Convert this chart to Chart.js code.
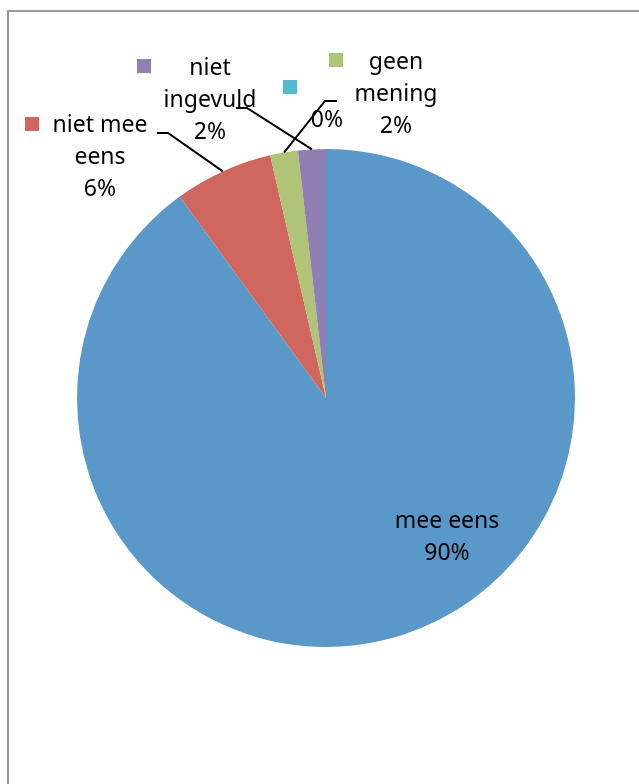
<!DOCTYPE html>
<html>
<head>
<meta charset="utf-8">
<script src="https://cdn.jsdelivr.net/npm/chart.js@4/dist/chart.umd.min.js"></script>
<style>
    html, body { margin: 0; padding: 0; background: #fff; }
    #wrap { position: relative; width: 639px; height: 784px; overflow: hidden; }
    #frame {
        position: absolute; left: 7px; top: 10px; width: 700px; height: 800px;
        border-left: 2px solid #999; border-top: 2px solid #999;
    }
    #pieChart { position: absolute; left: 0; top: 0; }
</style>
</head>
<body>
<div id="wrap">
    <div id="frame"></div>
    <canvas id="pieChart" width="639" height="784"></canvas>
</div>
<script>
(function() {
    'use strict';

    // data, in drawing order (clockwise from 12 o'clock)
    const categories = ['mee eens', 'niet mee eens', 'geen mening', '', 'niet ingevuld'];
    const shares = [90, 6.4, 1.8, 0, 1.8];
    const colors = ['#5998C8', '#D0675F', '#AFC476', '#55B9D0', '#917FB4'];

    // where the data labels sit (text centre x, first line y, key centre, leader elbow)
    const labelLayout = [
        { lines: ['mee eens'], x: 447, y: 521 },
        { lines: ['niet mee', 'eens'], x: 100, y: 125, key: [32, 124], elbow: [[168, 133], [157, 133]] },
        { lines: ['geen', 'mening'], x: 396, y: 62, key: [336, 60], elbow: [[325, 101], [337, 101]] },
        { lines: [''], x: 327, y: 88, key: [290, 87] },
        { lines: ['niet', 'ingevuld'], x: 210, y: 68, key: [144, 66], elbow: [[247, 108], [236, 108]] }
    ];
    const lineHeight = 32;

    const total = shares.reduce(function(a, b) { return a + b; }, 0);

    const pieLabels = {
        id: 'pieLabels',
        afterDatasetsDraw: function(chart) {
            const ctx = chart.ctx;
            const meta = chart.getDatasetMeta(0);
            ctx.save();
            ctx.font = '23px "Noto Sans"';
            ctx.textAlign = 'center';
            ctx.textBaseline = 'middle';

            meta.data.forEach(function(arc, i) {
                const lay = labelLayout[i];
                const pct = Math.round(shares[i] / total * 100) + '%';
                const lines = lay.lines.concat([pct]);

                // leader line from the slice edge
                if (lay.elbow) {
                    const p = arc.getProps(['x', 'y', 'startAngle', 'endAngle', 'outerRadius'], true);
                    const mid = (p.startAngle + p.endAngle) / 2;
                    ctx.beginPath();
                    ctx.moveTo(p.x + Math.cos(mid) * p.outerRadius, p.y + Math.sin(mid) * p.outerRadius);
                    lay.elbow.forEach(function(pt) { ctx.lineTo(pt[0], pt[1]); });
                    ctx.strokeStyle = '#000';
                    ctx.lineWidth = 2;
                    ctx.stroke();
                }

                if (lay.key) {
                    ctx.fillStyle = colors[i];
                    ctx.fillRect(lay.key[0] - 7, lay.key[1] - 7, 14, 14);
                }

                ctx.fillStyle = '#000';
                lines.forEach(function(t, k) {
                    if (t) ctx.fillText(t, lay.x, lay.y + k * lineHeight);
                });
            });
            ctx.restore();
        }
    };

    function initPie() {
        const canvas = document.getElementById('pieChart');
        if (typeof Chart === 'undefined') {
            console.warn('Chart.js not loaded');
            return;
        }
        new Chart(canvas.getContext('2d'), {
            type: 'pie',
            data: {
                labels: categories,
                datasets: [{
                    data: shares,
                    backgroundColor: colors,
                    borderWidth: 0
                }]
            },
            options: {
                responsive: false,
                animation: false,
                layout: { padding: { left: 77, right: 64, top: 149, bottom: 137 } },
                plugins: {
                    legend: { display: false },
                    tooltip: { enabled: false }
                }
            },
            plugins: [pieLabels]
        });
    }

    document.addEventListener('DOMContentLoaded', initPie);
})();
</script>
</body>
</html>
